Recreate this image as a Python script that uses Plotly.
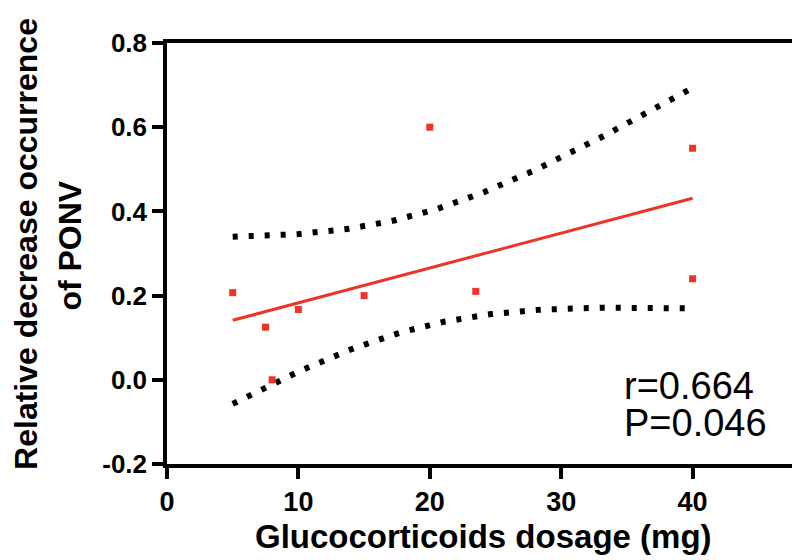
import numpy as np
import plotly.graph_objects as go

# Data
dosage_mg = [5, 7.5, 8, 10, 15, 20, 23.5, 40, 40]
relative_decrease = [0.207, 0.125, 0.0, 0.167, 0.2, 0.6, 0.21, 0.55, 0.24]
x_ticks = [0, 10, 20, 30, 40]
y_ticks = [-0.2, 0.0, 0.2, 0.4, 0.6, 0.8]
y_tick_labels = ["-0.2", "0.0", "0.2", "0.4", "0.6", "0.8"]
stats_lines = ["r=0.664", "P=0.046"]

# Linear regression with 95% confidence band (derived from the data)
x = np.array(dosage_mg, dtype=float)
y = np.array(relative_decrease, dtype=float)
n = len(x)
slope, intercept = np.polyfit(x, y, 1)
resid = y - (slope * x + intercept)
s = np.sqrt(np.sum(resid ** 2) / (n - 2))
t_crit = 2.3646  # t(0.975, df=7)
xg = np.linspace(x.min(), x.max(), 120)
yfit = slope * xg + intercept
se = s * np.sqrt(1.0 / n + (xg - x.mean()) ** 2 / np.sum((x - x.mean()) ** 2))
upper = yfit + t_crit * se
lower = yfit - t_crit * se

RED = "#ee3327"
FONT = "Liberation Sans, Arial, sans-serif"

fig = go.Figure()
for band in (upper, lower):
    fig.add_trace(go.Scatter(x=xg, y=band, mode="lines",
                             line=dict(color="black", width=6, dash="5px,11px"),
                             hoverinfo="skip", showlegend=False))
fig.add_trace(go.Scatter(x=xg, y=yfit, mode="lines",
                         line=dict(color=RED, width=3), showlegend=False))
fig.add_trace(go.Scatter(x=dosage_mg, y=relative_decrease, mode="markers",
                         marker=dict(color=RED, size=7, symbol="square"),
                         showlegend=False))

fig.update_layout(
    width=800, height=560,
    margin=dict(l=159, r=5, t=35, b=104),
    plot_bgcolor="white", paper_bgcolor="white",
    font=dict(family=FONT, color="black"),
    xaxis=dict(range=[0, 48.1], tickvals=x_ticks, showgrid=False, zeroline=False,
               showline=True, linecolor="black", linewidth=3.5, mirror=True,
               ticks="outside", ticklen=11, tickwidth=3.5, tickcolor="black",
               tickfont=dict(size=27, weight="bold", family=FONT)),
    yaxis=dict(range=[-0.2, 0.8], tickvals=y_ticks, ticktext=y_tick_labels,
               showgrid=False, zeroline=False,
               showline=True, linecolor="black", linewidth=3.5, mirror=True,
               ticks="outside", ticklen=11, tickwidth=3.5, tickcolor="black",
               tickfont=dict(size=26, weight="bold", family=FONT)),
)

# Axis titles
fig.add_annotation(text="<b>Glucocorticoids dosage (mg)</b>", xref="paper", yref="paper",
                   x=0.5, y=-(528 - 456) / 421, xanchor="center", yanchor="middle",
                   showarrow=False, font=dict(size=33, family=FONT, color="black"))
fig.add_annotation(text="<b>Relative decrease occurrence</b>", xref="paper", yref="paper",
                   x=-(159 - 17) / 636, y=(456 - 236) / 421, xanchor="center", yanchor="middle",
                   textangle=-90, showarrow=False, font=dict(size=32, family=FONT, color="black"))
fig.add_annotation(text="<b>of PONV</b>", xref="paper", yref="paper",
                   x=-(159 - 61) / 636, y=(456 - 238) / 421, xanchor="center", yanchor="middle",
                   textangle=-90, showarrow=False, font=dict(size=32, family=FONT, color="black"))

# Statistics text
for i, line in enumerate(stats_lines):
    fig.add_annotation(text=line, xref="paper", yref="paper",
                       x=(617 - 159) / 636, y=(456 - (378 + i * 37)) / 421,
                       xanchor="left", yanchor="middle", showarrow=False,
                       font=dict(size=38, family=FONT, color="black"))

fig.write_html("out.html")
